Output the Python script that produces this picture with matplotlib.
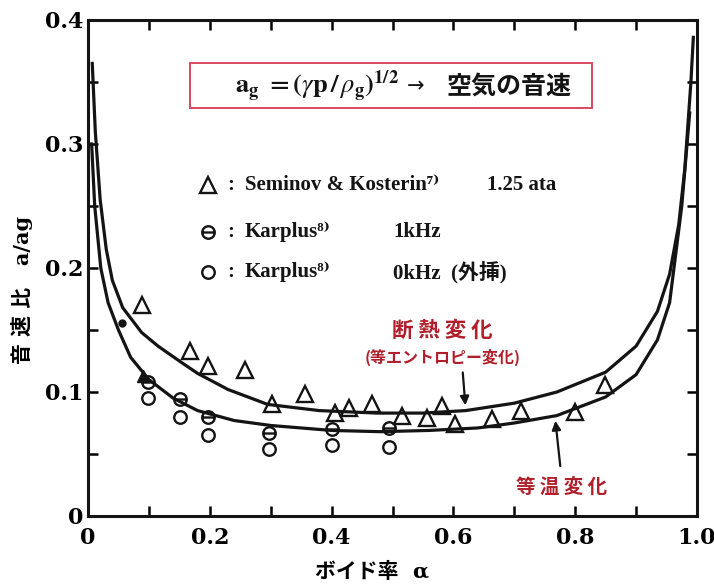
import matplotlib
matplotlib.use('Agg')
import matplotlib.pyplot as plt
from matplotlib.path import Path
from matplotlib.patches import Rectangle

# adiabatic (isentropic) curve
alpha_adiabatic = [0.007, 0.012, 0.02, 0.03, 0.04, 0.057, 0.088, 0.115, 0.15, 0.18, 0.23,
                   0.295, 0.38, 0.475, 0.55, 0.62, 0.70, 0.77, 0.85, 0.90, 0.935, 0.955,
                   0.97, 0.98, 0.99, 0.994]
ratio_adiabatic = [0.365, 0.31, 0.255, 0.215, 0.19, 0.168, 0.148, 0.137, 0.125, 0.115, 0.102,
                   0.090, 0.085, 0.083, 0.083, 0.085, 0.091, 0.100, 0.116, 0.137, 0.165, 0.195,
                   0.235, 0.28, 0.35, 0.386]

# isothermal curve
alpha_isothermal = [0.006, 0.011, 0.021, 0.033, 0.05, 0.07, 0.10, 0.14, 0.18, 0.24, 0.30,
                    0.40, 0.48, 0.56, 0.64, 0.70, 0.77, 0.85, 0.90, 0.935, 0.955, 0.975, 0.988]
ratio_isothermal = [0.30, 0.25, 0.20, 0.172, 0.150, 0.128, 0.110, 0.095, 0.085, 0.077, 0.073,
                    0.069, 0.068, 0.069, 0.071, 0.075, 0.081, 0.096, 0.114, 0.142, 0.172, 0.25, 0.325]

# Seminov & Kosterin, 1.25 ata
alpha_seminov = [0.089, 0.167, 0.197, 0.257, 0.302, 0.356, 0.405, 0.428, 0.467, 0.516, 0.557,
                 0.582, 0.603, 0.664, 0.711, 0.80, 0.849]
ratio_seminov = [0.170, 0.133, 0.121, 0.118, 0.090, 0.098, 0.083, 0.087, 0.090, 0.081, 0.079,
                 0.089, 0.074, 0.078, 0.085, 0.084, 0.106]

# Karplus 1 kHz
alpha_karplus1 = [0.098, 0.151, 0.197, 0.298, 0.40, 0.495]
ratio_karplus1 = [0.108, 0.094, 0.080, 0.067, 0.070, 0.071]

# Karplus 0 kHz (extrapolated)
alpha_karplus0 = [0.098, 0.151, 0.197, 0.298, 0.40, 0.495]
ratio_karplus0 = [0.095, 0.080, 0.065, 0.054, 0.057, 0.056]

# the two solid marks sitting on the lower curve
alpha_solid_dot = [0.056]
ratio_solid_dot = [0.156]
alpha_solid_tri = [0.09]
ratio_solid_tri = [0.113]

x_ticks = [0, 0.1, 0.2, 0.3, 0.4, 0.5, 0.6, 0.7, 0.8, 0.9, 1.0]
x_ticklabels = ['0', '', '0.2', '', '0.4', '', '0.6', '', '0.8', '', '1.0']
y_ticks = [0, 0.05, 0.1, 0.15, 0.2, 0.25, 0.3, 0.35, 0.4]
y_ticklabels = ['0', '', '0.1', '', '0.2', '', '0.3', '', '0.4']

plt.rcParams['mathtext.fontset'] = 'stix'
ink = '#141414'
red = '#b0202c'
jp = ['DejaVu Serif', 'Noto Sans CJK JP']

fig = plt.figure(figsize=(7.14, 5.88), dpi=100)
ax = fig.add_axes([88/714, 1-516/588, 609/714, 496/588])

ax.plot(alpha_adiabatic, ratio_adiabatic, color=ink, lw=2.3)
ax.plot(alpha_isothermal, ratio_isothermal, color=ink, lw=2.3)

theta = Path.make_compound_path(Path.unit_circle(),
                                Path([[-1, 0], [1, 0]], [Path.MOVETO, Path.LINETO]))
mk = dict(linestyle='none', mfc='none', mec=ink, mew=1.7)
ax.plot(alpha_seminov, ratio_seminov, marker='^', ms=11, **mk)
ax.plot(alpha_karplus1, ratio_karplus1, marker=theta, ms=9, **mk)
ax.plot(alpha_karplus0, ratio_karplus0, marker='o', ms=9, **mk)
ax.plot(alpha_solid_dot, ratio_solid_dot, linestyle='none', marker='o', ms=5, color=ink)
ax.plot(alpha_solid_tri, ratio_solid_tri, linestyle='none', marker='^', ms=8, color=ink)

ax.set_xlim(0, 1.0)
ax.set_ylim(0, 0.4)
ax.set_xticks(x_ticks, x_ticklabels)
ax.set_yticks(y_ticks, y_ticklabels)
ax.tick_params(direction='in', length=7, width=1.8, top=True, right=True)
ax.tick_params(axis='x', pad=8)
ax.tick_params(axis='y', pad=3)
for lab in ax.get_xticklabels() + ax.get_yticklabels():
    lab.set_fontfamily('DejaVu Serif')
    lab.set_fontweight('bold')
    lab.set_fontsize(16)
for s in ax.spines.values():
    s.set_linewidth(2.2)
    s.set_color(ink)

ax.set_xlabel('ボイド率  α', family=jp, fontweight='bold', fontsize=15)
ax.xaxis.set_label_coords(0.466, -0.093)
ax.set_ylabel('音 速 比   a/ag', family=jp, fontweight='bold', fontsize=15)
ax.yaxis.set_label_coords(-0.09, 0.455)

# boxed definition
ax.add_patch(Rectangle((0.167, 0.823), 0.661, 0.09, transform=ax.transAxes,
                       fill=False, ec='#d8485e', lw=1.4))
ax.text(0.241, 0.866,
        r'$\mathbf{a_g\ =(}\gamma\mathbf{p\,/\,}\rho_\mathbf{g}\mathbf{)^{1/2}}$',
        transform=ax.transAxes, va='center', fontsize=19, color=ink)
ax.text(0.523, 0.866, '→', transform=ax.transAxes, va='center',
        family='DejaVu Sans', fontsize=15, color=ink)
ax.text(0.589, 0.866, '空気の音速', transform=ax.transAxes, va='center',
        family='Noto Sans CJK JP', fontweight='bold', fontsize=18, color=ink)

# legend keys and labels
lx, cx, tx, ex = 0.197, 0.228, 0.258, 0.501
rows = [0.667, 0.573, 0.492]
ax.plot([lx], [rows[0]], transform=ax.transAxes, marker='^', ms=11, **mk)
ax.plot([lx], [rows[1]], transform=ax.transAxes, marker=theta, ms=9, **mk)
ax.plot([lx], [rows[2]], transform=ax.transAxes, marker='o', ms=9, **mk)
lf = dict(transform=ax.transAxes, va='center', fontsize=15, fontweight='bold', color=ink,
          family=['Liberation Serif', 'DejaVu Serif', 'Noto Sans CJK JP'])
for r in rows:
    ax.text(cx, r, ':', **lf)
ax.text(tx, rows[0], 'Seminov & Kosterin⁷⁾', **lf)
ax.text(0.655, rows[0], '1.25 ata', **lf)
ax.text(tx, rows[1], 'Karplus⁸⁾', **lf)
ax.text(ex, rows[1], '1kHz', **lf)
ax.text(tx, rows[2], 'Karplus⁸⁾', **lf)
ax.text(ex, rows[2], '0kHz  (外挿)', **lf)

# curve annotations
ax.text(0.581, 0.150, '断 熱 変 化', ha='center', va='center', color=red,
        family='Noto Sans CJK JP', fontweight='bold', fontsize=15.5)
ax.text(0.583, 0.1275, '(等エントロピー変化)', ha='center', va='center', color=red,
        family='Noto Sans CJK JP', fontweight='bold', fontsize=11.5)
ax.annotate('', xy=(0.62, 0.087), xytext=(0.615, 0.118),
            arrowprops=dict(arrowstyle='-|>', color=ink, lw=1.6, mutation_scale=13))
ax.text(0.777, 0.023, '等 温 変 化', ha='center', va='center', color=red,
        family='Noto Sans CJK JP', fontweight='bold', fontsize=14)
ax.annotate('', xy=(0.767, 0.079), xytext=(0.776, 0.038),
            arrowprops=dict(arrowstyle='-|>', color=ink, lw=1.6, mutation_scale=13))

fig.savefig('out.png', dpi=100)
